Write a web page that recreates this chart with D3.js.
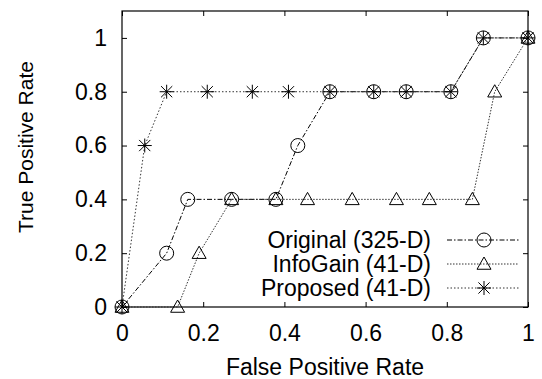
<!DOCTYPE html>
<html>
<head>
<meta charset="utf-8">
<script src="https://cdn.jsdelivr.net/npm/d3@7"></script>
<style>
  body { margin: 0; background: #fff; }
  text { font-family: "Liberation Sans", Arial, sans-serif; fill: #000; }
</style>
</head>
<body>
<div id="chart"></div>
<script>
// ROC points
const originalFpr = [0, 0.11, 0.162, 0.27, 0.379, 0.433, 0.512, 0.62, 0.70, 0.81, 0.89, 1.0];
const originalTpr = [0, 0.2, 0.4, 0.4, 0.4, 0.6, 0.8, 0.8, 0.8, 0.8, 1.0, 1.0];
const infoGainFpr = [0, 0.137, 0.19, 0.27, 0.379, 0.457, 0.567, 0.676, 0.757, 0.863, 0.918, 1.0];
const infoGainTpr = [0, 0, 0.2, 0.4, 0.4, 0.4, 0.4, 0.4, 0.4, 0.4, 0.8, 1.0];
const proposedFpr = [0, 0.056, 0.11, 0.21, 0.321, 0.41, 0.512, 0.62, 0.70, 0.81, 0.89, 1.0];
const proposedTpr = [0, 0.6, 0.8, 0.8, 0.8, 0.8, 0.8, 0.8, 0.8, 0.8, 1.0, 1.0];
const seriesNames = ['Original (325-D)', 'InfoGain (41-D)', 'Proposed (41-D)'];
const xTicks = [0, 0.2, 0.4, 0.6, 0.8, 1];
const yTicks = [0, 0.2, 0.4, 0.6, 0.8, 1];

const W = 542, H = 379;
const margin = { top: 11, right: 14, bottom: 72, left: 122 };
const width = W - margin.left - margin.right;
const height = H - margin.top - margin.bottom;

const svg = d3.select('#chart').append('svg')
  .attr('width', W)
  .attr('height', H);
const g = svg.append('g')
  .attr('transform', 'translate(' + margin.left + ',' + margin.top + ')');

const x = d3.scaleLinear().domain([0, 1]).range([0, width]);
const y = d3.scaleLinear().domain([0, 1.1]).range([height, 0]);

const tickLen = 5;
const fmt = d => d === 0 || d === 1 ? String(d) : d.toFixed(1);

// axes, ticks mirrored inward on all sides
g.append('g')
  .attr('transform', 'translate(0,' + height + ')')
  .call(d3.axisBottom(x).tickValues(xTicks).tickSize(-tickLen).tickPadding(13).tickFormat(fmt))
  .call(a => a.select('.domain').remove())
  .call(a => a.selectAll('text').style('font-size', '23px').attr('dy', '0.9em'));
g.append('g')
  .call(d3.axisTop(x).tickValues(xTicks).tickSize(-tickLen).tickFormat(''))
  .call(a => a.select('.domain').remove());
g.append('g')
  .call(d3.axisLeft(y).tickValues(yTicks).tickSize(-tickLen).tickPadding(15).tickFormat(fmt))
  .call(a => a.select('.domain').remove())
  .call(a => a.selectAll('text').style('font-size', '23px'));
g.append('g')
  .attr('transform', 'translate(' + width + ',0)')
  .call(d3.axisRight(y).tickValues(yTicks).tickSize(-tickLen).tickFormat(''))
  .call(a => a.select('.domain').remove());
g.selectAll('.tick line').attr('stroke', '#000').attr('stroke-width', 1);

g.append('rect')
  .attr('width', width)
  .attr('height', height)
  .attr('fill', 'none')
  .attr('stroke', '#000')
  .attr('stroke-width', 1.2);

// axis titles
svg.append('text')
  .attr('x', margin.left + width / 2)
  .attr('y', 375)
  .attr('text-anchor', 'middle')
  .style('font-size', '23px')
  .text('False Positive Rate');
svg.append('text')
  .attr('transform', 'translate(33,147) rotate(-90)')
  .attr('text-anchor', 'middle')
  .style('font-size', '21px')
  .text('True Positive Rate');

// markers
const R = 7;
function drawMarker(sel, type) {
  if (type === 'circle') {
    sel.append('circle').attr('r', R).attr('fill', 'none').attr('stroke', '#000').attr('stroke-width', 1);
  } else if (type === 'triangle') {
    sel.append('path')
      .attr('d', 'M0,' + (-R) + 'L' + R + ',' + (R * 0.75) + 'L' + (-R) + ',' + (R * 0.75) + 'Z')
      .attr('fill', 'none').attr('stroke', '#000').attr('stroke-width', 1);
  } else {
    const s = R;
    const d = s * 0.8;
    sel.append('path')
      .attr('d', 'M' + (-s) + ',0L' + s + ',0M0,' + (-s) + 'L0,' + s +
        'M' + (-d) + ',' + (-d) + 'L' + d + ',' + d + 'M' + (-d) + ',' + d + 'L' + d + ',' + (-d))
      .attr('fill', 'none').attr('stroke', '#000').attr('stroke-width', 1);
  }
}

const series = [
  { name: seriesNames[0], fpr: originalFpr, tpr: originalTpr, dash: '5,2,1.5,2', marker: 'circle', color: '#000' },
  { name: seriesNames[1], fpr: infoGainFpr, tpr: infoGainTpr, dash: '1.5,1.5', marker: 'triangle', color: '#333' },
  { name: seriesNames[2], fpr: proposedFpr, tpr: proposedTpr, dash: '1.5,2', marker: 'star', color: '#333' }
];

const line = d3.line().x(d => x(d[0])).y(d => y(d[1]));

series.forEach(s => {
  const pts = s.fpr.map((v, i) => [v, s.tpr[i]]);
  g.append('path')
    .datum(pts)
    .attr('d', line)
    .attr('fill', 'none')
    .attr('stroke', s.color)
    .attr('stroke-width', 1)
    .attr('stroke-dasharray', s.dash);
  g.selectAll(null)
    .data(pts)
    .enter().append('g')
    .attr('transform', d => 'translate(' + x(d[0]) + ',' + y(d[1]) + ')')
    .each(function () { drawMarker(d3.select(this), s.marker); });
});

// legend
const legend = svg.append('g');
series.forEach((s, i) => {
  const ly = 240 + i * 24;
  legend.append('text')
    .attr('x', 431)
    .attr('y', ly)
    .attr('dy', '0.35em')
    .attr('text-anchor', 'end')
    .style('font-size', '23px')
    .text(s.name);
  legend.append('line')
    .attr('x1', 447).attr('x2', 519)
    .attr('y1', ly).attr('y2', ly)
    .attr('stroke', s.color)
    .attr('stroke-width', 1)
    .attr('stroke-dasharray', s.dash);
  drawMarker(legend.append('g').attr('transform', 'translate(484,' + ly + ')'), s.marker);
});
</script>
</body>
</html>
